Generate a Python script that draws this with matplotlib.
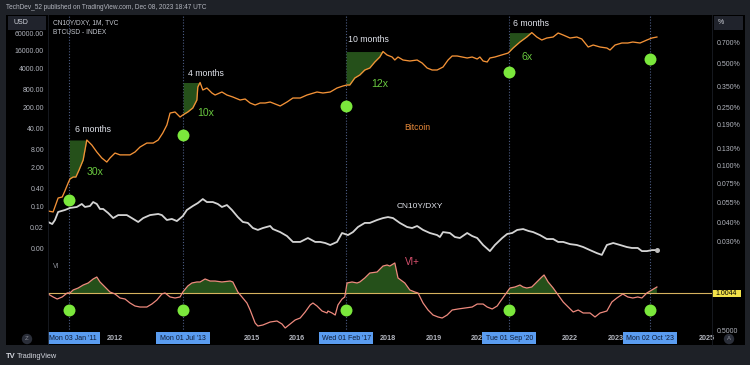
import numpy as np
import matplotlib
matplotlib.use("Agg")
import matplotlib.pyplot as plt
from matplotlib.patches import Rectangle
from matplotlib.lines import Line2D
from matplotlib.ticker import NullLocator
import matplotlib.transforms as mtransforms

plt.rcParams['font.family'] = ['Liberation Sans', 'DejaVu Sans']

# ---------------- data (decimal years) ----------------
btc_t = [2010.53, 2010.64, 2010.75, 2010.84, 2010.90, 2010.97, 2011.01, 2011.08, 2011.14, 2011.21,
         2011.30, 2011.38, 2011.49, 2011.60, 2011.71, 2011.82, 2011.89, 2012.00, 2012.11, 2012.33,
         2012.44, 2012.55, 2012.70, 2012.84, 2012.95, 2013.05, 2013.14, 2013.21, 2013.32, 2013.43,
         2013.49, 2013.60, 2013.71, 2013.80, 2013.82, 2013.87, 2013.93, 2014.02, 2014.13, 2014.20,
         2014.35, 2014.46, 2014.59, 2014.75, 2014.86, 2014.97, 2015.08, 2015.19, 2015.30, 2015.41,
         2015.63, 2015.78, 2015.91, 2016.07, 2016.22, 2016.44, 2016.57, 2016.73, 2016.88, 2017.01,
         2017.10, 2017.16, 2017.27, 2017.38, 2017.49, 2017.60, 2017.71, 2017.82, 2017.89, 2017.98,
         2018.09, 2018.15, 2018.22, 2018.33, 2018.48, 2018.64, 2018.75, 2018.86, 2018.97, 2019.08,
         2019.21, 2019.32, 2019.41, 2019.52, 2019.63, 2019.74, 2019.85, 2019.96, 2020.02, 2020.09,
         2020.18, 2020.24, 2020.35, 2020.46, 2020.64, 2020.75, 2020.90, 2021.05, 2021.16, 2021.27,
         2021.38, 2021.49, 2021.63, 2021.74, 2021.85, 2022.00, 2022.15, 2022.26, 2022.40, 2022.51,
         2022.66, 2022.81, 2022.88, 2022.99, 2023.14, 2023.27, 2023.38, 2023.54, 2023.69, 2023.80,
         2023.91]
btc_v = [0.070, 0.065, 0.19, 0.205, 0.33, 0.60, 0.82, 0.95, 0.95, 1.63,
         3.5, 16.3, 11.1, 6.5, 4.1, 3.0, 4.1, 6.0, 5.2, 5.2,
         6.5, 9.5, 12.9, 12.9, 16.3, 27.9, 51.5, 129, 140, 95,
         111, 140, 190, 351, 952, 1346, 757, 882, 601, 515,
         649, 515, 442, 351, 379, 279, 239, 279, 279, 301,
         222, 301, 409, 409, 515, 649, 601, 649, 882, 1028,
         1111, 1111, 1900, 2392, 3512, 4096, 6492, 9526, 14500, 11108,
         9526, 7566, 9526, 7566, 7007, 7566, 6009, 4096, 3512, 3512,
         4422, 7566, 10285, 10285, 9526, 8823, 9526, 8170, 9526, 7007,
         6492, 8823, 9526, 10700, 12900, 19000, 30100, 44200, 62000, 44200,
         35100, 40900, 44200, 60100, 51500, 40900, 44200, 37900, 20500, 23900,
         20500, 19000, 16300, 23900, 27900, 27900, 30100, 27900, 35100, 40900,
         44200]

cn_t = [2010.53, 2010.62, 2010.68, 2010.75, 2010.90, 2011.01, 2011.16, 2011.27, 2011.34, 2011.45,
        2011.52, 2011.60, 2011.67, 2011.74, 2011.85, 2011.96, 2012.07, 2012.26, 2012.37, 2012.51,
        2012.62, 2012.77, 2012.95, 2013.03, 2013.14, 2013.25, 2013.36, 2013.49, 2013.58, 2013.71,
        2013.82, 2013.93, 2014.02, 2014.15, 2014.26, 2014.35, 2014.46, 2014.57, 2014.70, 2014.81,
        2014.92, 2015.03, 2015.14, 2015.25, 2015.41, 2015.47, 2015.63, 2015.78, 2015.91, 2016.07,
        2016.24, 2016.40, 2016.51, 2016.62, 2016.73, 2016.88, 2016.99, 2017.12, 2017.23, 2017.34,
        2017.49, 2017.60, 2017.76, 2017.89, 2018.00, 2018.11, 2018.26, 2018.42, 2018.53, 2018.64,
        2018.77, 2018.92, 2019.08, 2019.14, 2019.21, 2019.36, 2019.47, 2019.58, 2019.74, 2019.85,
        2019.96, 2020.09, 2020.24, 2020.35, 2020.51, 2020.62, 2020.73, 2020.84, 2020.97, 2021.09,
        2021.19, 2021.34, 2021.49, 2021.63, 2021.74, 2021.85, 2022.00, 2022.15, 2022.29, 2022.44,
        2022.59, 2022.70, 2022.81, 2022.95, 2023.10, 2023.25, 2023.36, 2023.49, 2023.58, 2023.69,
        2023.80, 2023.91]
cn_v = [0.0406, 0.0393, 0.0419, 0.0476, 0.0491, 0.0507, 0.0515, 0.0540, 0.0515, 0.0523,
        0.0557, 0.0540, 0.0499, 0.0499, 0.0468, 0.0432, 0.0453, 0.0453, 0.0432, 0.0406,
        0.0432, 0.0453, 0.0461, 0.0453, 0.0419, 0.0426, 0.0412, 0.0446, 0.0491, 0.0523,
        0.0548, 0.0584, 0.0557, 0.0557, 0.0540, 0.0515, 0.0531, 0.0491, 0.0439, 0.0406,
        0.0400, 0.0369, 0.0358, 0.0369, 0.0381, 0.0363, 0.0346, 0.0325, 0.0296, 0.0296,
        0.0315, 0.0296, 0.0296, 0.0291, 0.0282, 0.0296, 0.0341, 0.0330, 0.0346, 0.0375,
        0.0400, 0.0400, 0.0419, 0.0432, 0.0439, 0.0432, 0.0400, 0.0375, 0.0369, 0.0381,
        0.0358, 0.0341, 0.0330, 0.0320, 0.0346, 0.0341, 0.0320, 0.0315, 0.0341, 0.0325,
        0.0315, 0.0282, 0.0256, 0.0282, 0.0315, 0.0336, 0.0341, 0.0358, 0.0363, 0.0352,
        0.0346, 0.0330, 0.0310, 0.0310, 0.0296, 0.0296, 0.0286, 0.0282, 0.0273, 0.0260,
        0.0248, 0.0241, 0.0282, 0.0291, 0.0282, 0.0273, 0.0269, 0.0269, 0.0256, 0.0256,
        0.0260, 0.0260]

vi_t = [2010.53, 2010.64, 2010.73, 2010.84, 2010.95, 2011.01, 2011.08, 2011.19, 2011.30, 2011.41,
        2011.52, 2011.60, 2011.67, 2011.78, 2011.89, 2012.00, 2012.11, 2012.22, 2012.33, 2012.44,
        2012.55, 2012.70, 2012.81, 2012.92, 2013.03, 2013.10, 2013.21, 2013.32, 2013.43, 2013.49,
        2013.60, 2013.69, 2013.80, 2013.87, 2013.98, 2014.09, 2014.20, 2014.35, 2014.53, 2014.59,
        2014.70, 2014.79, 2014.90, 2014.97, 2015.08, 2015.14, 2015.25, 2015.41, 2015.56, 2015.67,
        2015.74, 2015.85, 2015.96, 2016.07, 2016.18, 2016.29, 2016.35, 2016.44, 2016.55, 2016.66,
        2016.68, 2016.77, 2016.84, 2016.90, 2016.99, 2017.05, 2017.10, 2017.21, 2017.32, 2017.38,
        2017.49, 2017.60, 2017.76, 2017.89, 2017.98, 2018.04, 2018.15, 2018.22, 2018.37, 2018.48,
        2018.59, 2018.66, 2018.77, 2018.88, 2018.99, 2019.10, 2019.19, 2019.30, 2019.41, 2019.54,
        2019.69, 2019.85, 2019.96, 2020.09, 2020.18, 2020.29, 2020.40, 2020.46, 2020.57, 2020.68,
        2020.79, 2020.90, 2020.97, 2021.05, 2021.16, 2021.27, 2021.38, 2021.43, 2021.52, 2021.63,
        2021.74, 2021.85, 2021.96, 2022.07, 2022.18, 2022.29, 2022.44, 2022.55, 2022.66, 2022.81,
        2022.92, 2023.03, 2023.16, 2023.27, 2023.38, 2023.49, 2023.58, 2023.69, 2023.80, 2023.91]
vi_v = [0.995, 0.954, 0.926, 0.954, 1.009, 1.009, 1.050, 1.077, 1.118, 1.146,
        1.201, 1.228, 1.160, 1.091, 1.022, 0.995, 0.940, 0.926, 0.871, 0.830,
        0.816, 0.816, 0.857, 0.912, 0.995, 1.009, 0.954, 0.940, 0.954, 1.022,
        1.105, 1.146, 1.160, 1.160, 1.201, 1.173, 1.173, 1.160, 1.173, 1.160,
        1.022, 0.954, 0.871, 0.775, 0.596, 0.555, 0.569, 0.610, 0.624, 0.583,
        0.528, 0.583, 0.638, 0.665, 0.748, 0.844, 0.871, 0.830, 0.761, 0.734,
        0.761, 0.734, 0.706, 0.844, 0.926, 0.954, 1.146, 1.160, 1.146, 1.160,
        1.215, 1.283, 1.297, 1.379, 1.393, 1.379, 1.421, 1.215, 1.146, 1.050,
        1.022, 1.009, 0.871, 0.775, 0.706, 0.679, 0.665, 0.706, 0.775, 0.789,
        0.802, 0.816, 0.857, 0.857, 0.816, 0.789, 0.830, 0.885, 0.981, 1.077,
        1.091, 1.118, 1.091, 1.077, 1.091, 1.160, 1.228, 1.256, 1.160, 1.077,
        0.981, 0.885, 0.816, 0.748, 0.775, 0.734, 0.734, 0.679, 0.734, 0.761,
        0.885, 0.940, 0.995, 0.954, 0.940, 0.954, 0.940, 1.009, 1.050, 1.091]
vi_level = 1.0044

signal_dates = [2011.0, 2013.5, 2017.08, 2020.67, 2023.75]
signal_labels = ["Mon 03 Jan '11", "Mon 01 Jul '13", "Wed 01 Feb '17", "Tue 01 Sep '20", "Mon 02 Oct '23"]
peak_dates = [2011.38, 2013.87, 2017.89, 2021.16]
run_months = ["6 months", "4 months", "10 months", "6 months"]
run_gains = ["30x", "10x", "12x", "6x"]

btc_ticks = [60000, 16000, 4000, 800, 200, 40, 8, 2, 0.4, 0.1, 0.02, 0.004]
btc_tick_labels = ["60000.00", "16000.00", "4000.00", "800.00", "200.00", "40.00", "8.00",
                   "2.00", "0.40", "0.10", "0.02", "0.00"]
cn_ticks = [0.7, 0.5, 0.35, 0.25, 0.19, 0.13, 0.1, 0.075, 0.055, 0.04, 0.03]
cn_tick_labels = ["0.700%", "0.500%", "0.350%", "0.250%", "0.190%", "0.130%", "0.100%",
                  "0.075%", "0.055%", "0.040%", "0.030%"]
years = list(range(2011, 2026))

# ---------------- style ----------------
W, H = 750.0, 365.0
XMIN, XMAX = 2010.5275, 2025.121
BG = '#1e2127'
AXTXT = '#b2b5be'
GREEN_FILL = '#25501a'
DOT = '#7be83c'
VLINE = '#4d5d85'

def rect(x0, y0, x1, y1):
    return [x0 / W, 1 - y1 / H, (x1 - x0) / W, (y1 - y0) / H]

def fxy(x, y):
    return x / W, 1 - y / H

def clean(a):
    for s in a.spines.values():
        s.set_visible(False)

fig = plt.figure(figsize=(7.5, 3.65), dpi=100, facecolor=BG)
fig.patches.append(Rectangle((6 / W, 1 - 345 / H), 739 / W, 330 / H, transform=fig.transFigure,
                             facecolor='black', edgecolor='none', zorder=-5))

# ---------------- upper pane ----------------
ax = fig.add_axes(rect(48, 15, 712, 257))
ax.set_facecolor('black')
clean(ax)
ax.set_yscale('log')
ax.set_xlim(XMIN, XMAX)
ax.set_ylim(0.002051, 239300)
ax.set_xticks([])
ax.set_yticks(btc_ticks)
ax.set_yticklabels(btc_tick_labels)
ax.yaxis.set_minor_locator(NullLocator())
ax.tick_params(axis='y', length=0, pad=2.9, labelsize=5, labelcolor=AXTXT)

bt = np.asarray(btc_t)
bv = np.asarray(btc_v)
lbv = np.log10(bv)
for s, p in zip(signal_dates[:4], peak_dates):
    m = (bt > s) & (bt <= p)
    xs = np.r_[s, bt[m]]
    ys = np.r_[10 ** np.interp(s, bt, lbv), bv[m]]
    top = 10 ** np.interp(p, bt, lbv)
    ax.fill_between(xs, ys, top, color=GREEN_FILL, lw=0, zorder=2)

for d in signal_dates:
    ax.axvline(d, color=VLINE, lw=0.8, ls=(0, (1, 1.6)), zorder=1)

ax.plot(bt, bv, color='#f39237', lw=0.95, zorder=3)

dot_y = 10 ** np.interp(signal_dates, bt, lbv) * 0.21
ax.plot(signal_dates, dot_y, 'o', ms=8.6, color=DOT, mec='none', zorder=6)

axr = ax.twinx()
clean(axr)
axr.set_yscale('log')
axr.set_ylim(0.023313, 1.0789)
axr.set_xlim(XMIN, XMAX)
axr.set_yticks(cn_ticks)
axr.set_yticklabels(cn_tick_labels)
axr.yaxis.set_minor_locator(NullLocator())
axr.tick_params(axis='y', length=0, pad=3.6, labelsize=5, labelcolor=AXTXT)
axr.plot(cn_t, cn_v, color='#d4d4d4', lw=1.3, zorder=3)
axr.plot(cn_t[-1], cn_v[-1], 'o', ms=3.6, color='#bdbdbd', mec='none', zorder=4)

# ---------------- VI pane ----------------
axl = fig.add_axes(rect(48, 257, 712, 332))
axl.set_facecolor('black')
clean(axl)
axl.set_xlim(XMIN, XMAX)
axl.set_ylim(0.4728, 1.5030)
axl.set_xticks([])
axl.yaxis.tick_right()
axl.set_yticks([0.5])
axl.set_yticklabels(['0.5000'])
axl.tick_params(axis='y', length=0, pad=3.6, labelsize=5, labelcolor=AXTXT)
vt = np.asarray(vi_t)
vv = np.asarray(vi_v)
axl.fill_between(vt, vv, vi_level, where=vv > vi_level, interpolate=True, color=GREEN_FILL, lw=0, zorder=2)
axl.axhline(vi_level, color='#d6b25e', lw=0.8, zorder=3)
axl.plot(vt, vv, color='#ee8a7e', lw=0.9, zorder=4)
for d in signal_dates:
    axl.axvline(d, color=VLINE, lw=0.8, ls=(0, (1, 1.6)), zorder=1)
bl = mtransforms.blended_transform_factory(axl.transData, axl.transAxes)
axl.plot(signal_dates, [0.30] * len(signal_dates), 'o', ms=8.6, color=DOT, mec='none', zorder=6, transform=bl)
br = mtransforms.blended_transform_factory(axl.transAxes, axl.transData)
axl.add_patch(Rectangle((1.0, vi_level - 0.05), 29 / 664, 0.10, transform=br, facecolor='#f2e24a',
                        edgecolor='none', clip_on=False, zorder=7))
axl.text(1.0 + 14.5 / 664, vi_level, '1.0044', transform=br, ha='center', va='center', fontsize=5,
         color='black', clip_on=False, zorder=8)
axl.text(5 / 664, 0.88, 'VI', transform=axl.transAxes, fontsize=4.8, color='#9598a1', va='center')

# ---------------- time axis ----------------
axt = fig.add_axes(rect(48, 331, 712, 345))
axt.set_facecolor('black')
clean(axt)
axt.set_xlim(XMIN, XMAX)
axt.set_ylim(0, 1)
axt.set_xticks([])
axt.set_yticks([])

half = 27 / 45.5
centers = [max(d, XMIN + half * 0.92) for d in signal_dates]
spans = sorted((c - half, c + half) for c in centers)
# visible gaps between the highlighted date boxes
gaps = []
left = XMIN
for a, b in spans:
    if a > left:
        gaps.append((left, a))
    left = max(left, b)
gaps.append((left, XMAX))

for yr in years:
    gap = [g for g in gaps if g[0] <= yr <= g[1]]
    if not gap:
        continue  # label hidden under a highlighted date box
    g0, g1 = gap[0]
    t = axt.text(yr, 0.5, str(yr), ha='center', va='center', fontsize=5.2, fontweight='bold',
                 color=AXTXT, zorder=2)
    t.set_clip_path(Rectangle((g0, 0), g1 - g0, 1, transform=axt.transData))

for c, lab in zip(centers, signal_labels):
    axt.add_patch(Rectangle((c - half, 0.04), 2 * half, 0.92, facecolor='#5a9cf0', edgecolor='none',
                            zorder=3, clip_on=True))
    axt.text(c, 0.5, lab, ha='center', va='center', fontsize=5, color='#0e1a33', zorder=4, clip_on=True)

# ---------------- separators / chrome ----------------
for xs_, ys_ in [([48, 48], [15, 345]), ([712, 712], [15, 345])]:
    fig.add_artist(Line2D([x / W for x in xs_], [1 - y / H for y in ys_], color='#1a1d24', lw=0.6))

fig.patches.append(Rectangle(fxy(8, 30), 38 / W, 14 / H, transform=fig.transFigure,
                             facecolor='#20232c', edgecolor='none'))
fig.text(*fxy(13, 23), 'USD', fontsize=5, color='#d1d4dc', va='center', ha='left')
fig.patches.append(Rectangle(fxy(714, 30), 29 / W, 14 / H, transform=fig.transFigure,
                             facecolor='#20232c', edgecolor='none'))
fig.text(*fxy(718, 23), '%', fontsize=5, color='#d1d4dc', va='center', ha='left')

fig.text(*fxy(53, 23), 'CN10Y/DXY, 1M, TVC', fontsize=4.8, color='#c3c6ce', va='center', ha='left')
fig.text(*fxy(53, 32), 'BTCUSD - INDEX', fontsize=4.8, color='#c3c6ce', va='center', ha='left')

fig.text(*fxy(6, 7.5), 'TechDev_52 published on TradingView.com, Dec 08, 2023 18:47 UTC',
         fontsize=4.7, color='#b2b5be', va='center', ha='left')

fig.text(*fxy(27, 339), 'Z', fontsize=4.3, color='#8a8d96', va='center', ha='center',
         bbox=dict(boxstyle='circle,pad=0.45', fc='#2a2e39', ec='none'))
fig.text(*fxy(729, 339), 'A', fontsize=4.3, color='#8a8d96', va='center', ha='center',
         bbox=dict(boxstyle='circle,pad=0.45', fc='#2a2e39', ec='none'))

fig.text(*fxy(6, 356), 'TV', fontsize=5.5, fontweight='bold', color='#d1d4dc', va='center', ha='left')
fig.text(*fxy(17, 356), 'TradingView', fontsize=5.3, color='#d1d4dc', va='center', ha='left')

# ---------------- annotations ----------------
MONTH_POS = [(75, 130), (188, 73), (348, 39), (513, 23)]
GAIN_POS = [(87, 172), (197, 113), (371, 84), (522, 57)]
for (x, y), t in zip(MONTH_POS, run_months):
    fig.text(*fxy(x, y), t, fontsize=6.3, color='#e0e3eb', va='center', ha='left')
for (x, y), t in zip(GAIN_POS, run_gains):
    fig.text(*fxy(x, y), t, fontsize=7.6, color='#69c93f', va='center', ha='left')
fig.text(*fxy(404, 128), 'Bitcoin', fontsize=6.2, color='#e88a3a', va='center', ha='left')
fig.text(*fxy(397, 207), 'CN10Y/DXY', fontsize=6.0, color='#e0e3eb', va='center', ha='left')
fig.text(*fxy(405, 262), 'VI+', fontsize=7.0, color='#d9506e', va='center', ha='left')

fig.savefig('out.png', dpi=100, facecolor=BG)
